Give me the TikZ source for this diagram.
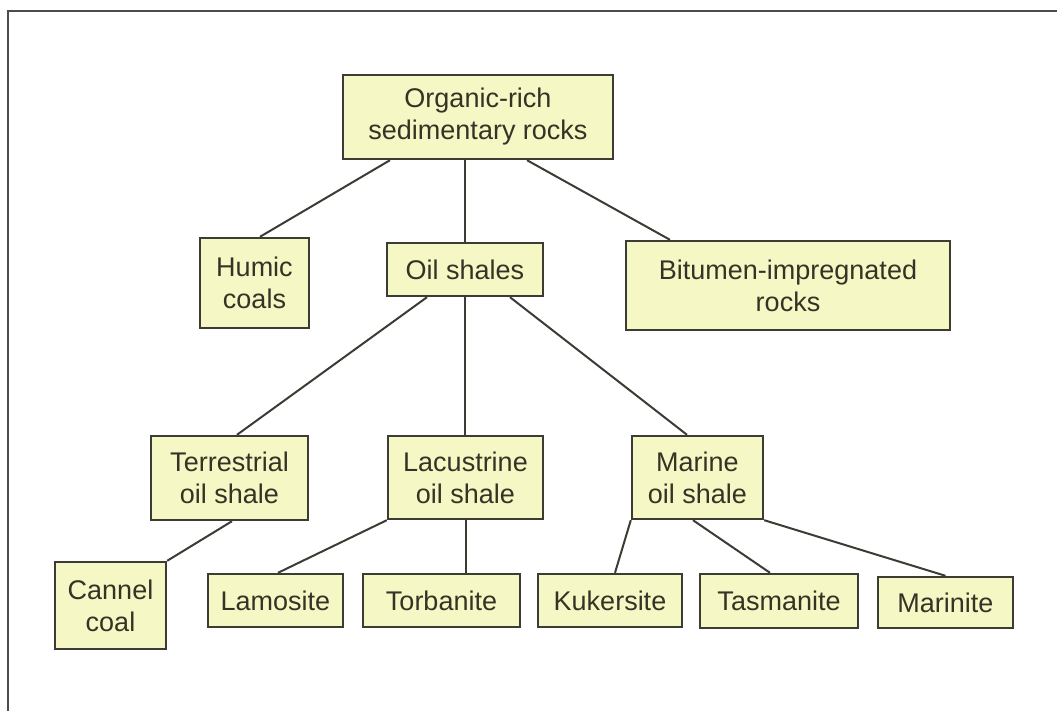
\documentclass[tikz,border=0pt]{standalone}
\usepackage{fontspec}
\setmainfont{Liberation Sans}
\usepackage{xcolor}
\usepackage{tikz}

\definecolor{boxfill}{RGB}{245,247,196}
\definecolor{boxline}{RGB}{60,60,52}
\definecolor{boxtext}{RGB}{52,52,38}

\begin{document}
\begin{tikzpicture}[
  x=0.5pt, y=-0.5pt,
  box/.style={draw=boxline, line width=1.2pt, fill=boxfill, text=boxtext, align=center,
    font=\fontsize{13.5}{16}\selectfont, inner sep=2pt},
  link/.style={draw=boxline, line width=1pt}
]
\useasboundingbox (0,0) rectangle (1057,711);
\draw[gray!60!black, line width=1.1pt] (1057,11) -- (8,11) -- (8,711);

% top level
\node[box, minimum width=135pt, minimum height=42pt] (rocks) at (478,117) {Organic-rich\\sedimentary rocks};
\node[box, minimum width=54.5pt, minimum height=45pt] (humic) at (254.5,283) {Humic\\coals};
\node[box, minimum width=78pt, minimum height=26.5pt] (oil) at (465,269.5) {Oil shales};
\node[box, minimum width=162pt, minimum height=44.5pt] (bit) at (788,285.5) {Bitumen-impregnated\\rocks};
\draw[link] ([xshift=-44pt]rocks.south) -- ([xshift=2.75pt]humic.north);
\draw[link] (oil.north) -- (oil.north |- rocks.south);
\draw[link] ([xshift=24.5pt]rocks.south) -- ([xshift=-59pt]bit.north);

% oil shale types
\node[box, minimum width=78.5pt, minimum height=42pt] (terr) at (229.5,478) {Terrestrial\\oil shale};
\node[box, minimum width=77.5pt, minimum height=41.5pt] (lac) at (465.5,477.5) {Lacustrine\\oil shale};
\node[box, minimum width=65.5pt, minimum height=41.5pt] (mar) at (697.5,477.5) {Marine\\oil shale};
\draw[link] ([xshift=-19pt]oil.south) -- ([xshift=3.75pt]terr.north);
\draw[link] (oil.south) -- (oil.south |- lac.north);
\draw[link] ([xshift=22.5pt]oil.south) -- ([xshift=-5.25pt]mar.north);

% deposits
\node[box, minimum width=55.5pt, minimum height=43.5pt] (cannel) at (110.5,605.5) {Cannel\\coal};
\node[box, minimum width=67.5pt, minimum height=26.5pt] (lamo) at (275.5,600.5) {Lamosite};
\node[box, minimum width=78.5pt, minimum height=26.5pt] (torb) at (441.5,600.5) {Torbanite};
\node[box, minimum width=72pt, minimum height=26.5pt] (kuk) at (610,600.5) {Kukersite};
\node[box, minimum width=79pt, minimum height=27pt] (tasm) at (779,601) {Tasmanite};
\node[box, minimum width=67.5pt, minimum height=25.5pt] (mari) at (945.5,602.5) {Marinite};
\draw[link] ([xshift=1.25pt]terr.south) -- (cannel.north east);
\draw[link] (lac.south west) -- ([xshift=1.25pt]lamo.north);
\draw[link] (lac.south) -- (lac.south |- torb.north);
\draw[link] (mar.south west) -- ([xshift=2.5pt]kuk.north);
\draw[link] ([xshift=-2.25pt]mar.south) -- ([xshift=-4.5pt]tasm.north);
\draw[link] (mar.south east) -- (mari.north);
\end{tikzpicture}
\end{document}
